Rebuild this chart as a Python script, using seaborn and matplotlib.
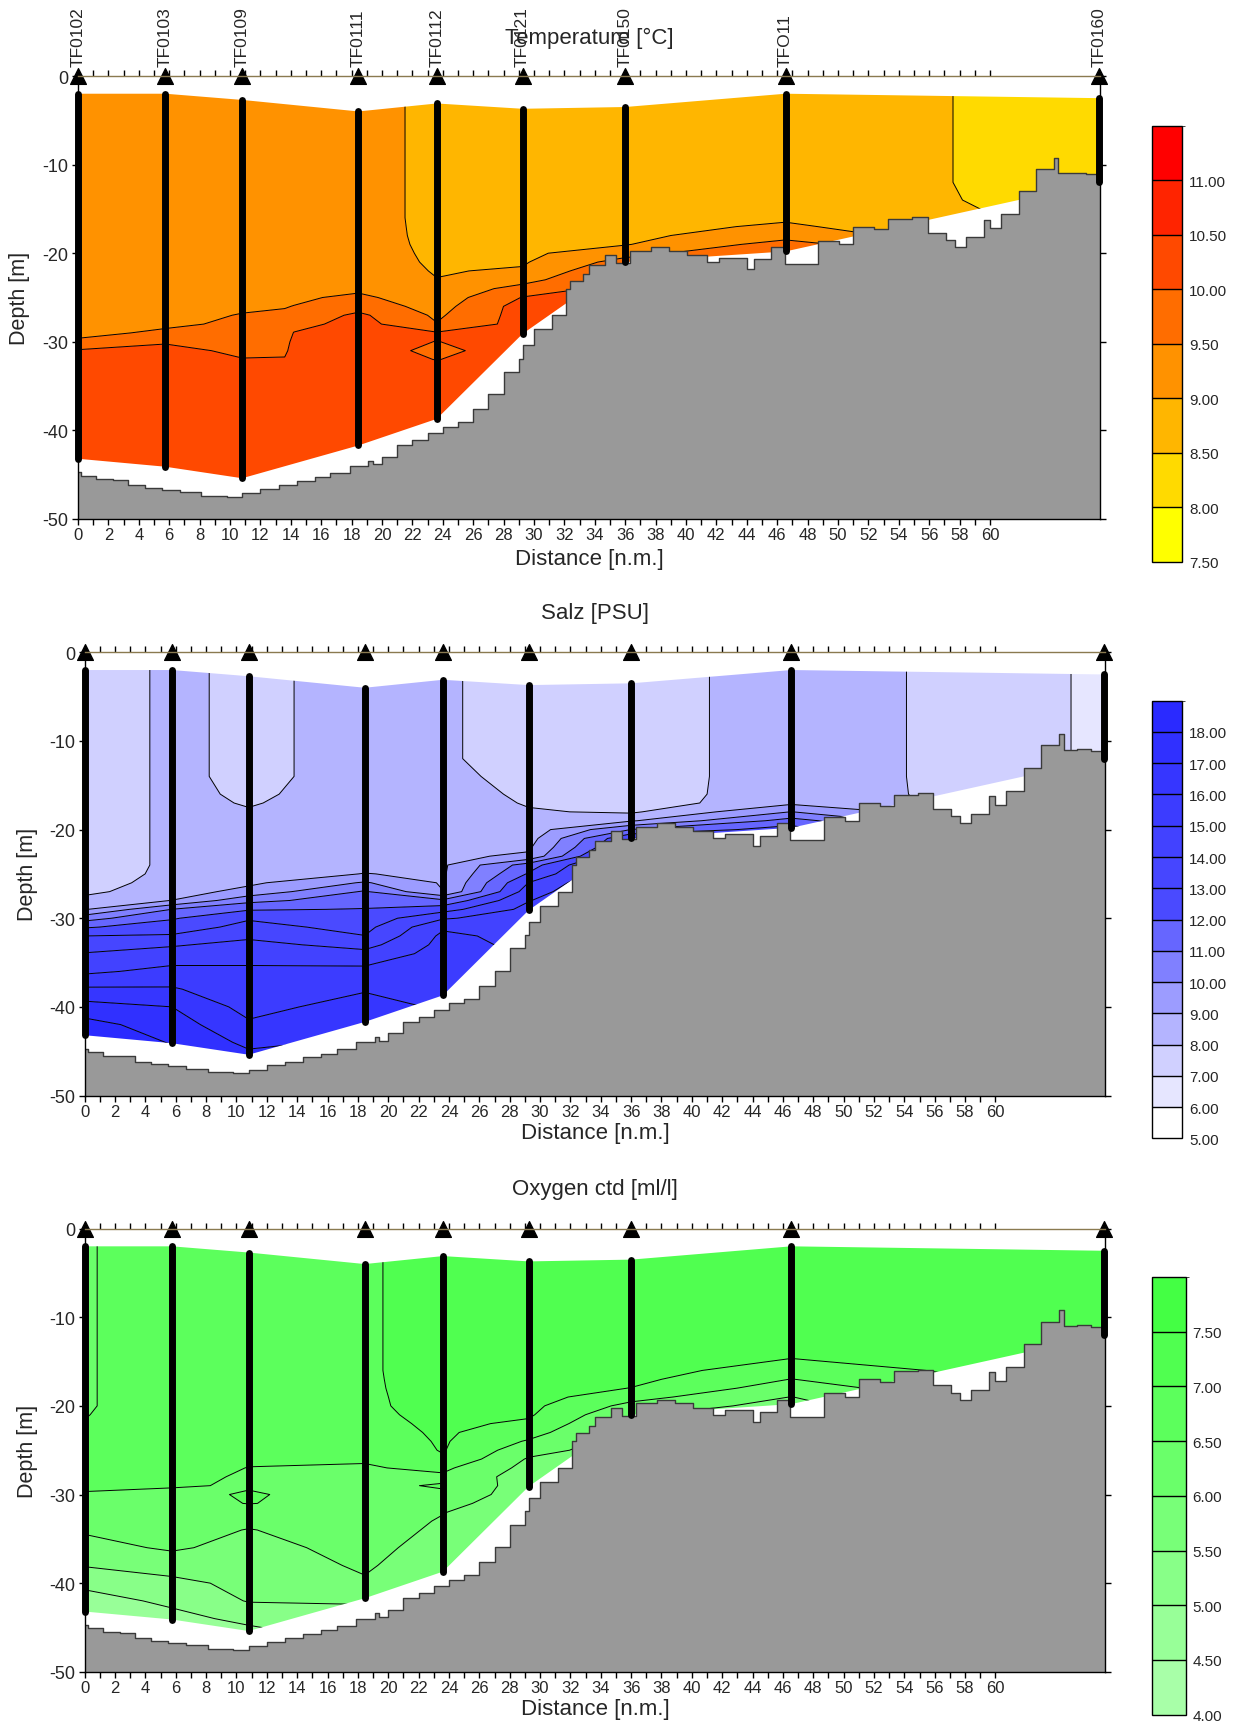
import numpy as np
import matplotlib
matplotlib.use("Agg")
import matplotlib.pyplot as plt
import seaborn as sns
from matplotlib.colors import ListedColormap, BoundaryNorm
from matplotlib.cm import ScalarMappable
from matplotlib.patches import Polygon
from matplotlib.ticker import FixedLocator

sns.set_style("ticks")
plt.rcParams["font.family"] = ["Liberation Sans", "DejaVu Sans"]
plt.rcParams["axes.unicode_minus"] = False

# ------------------------------------------------------------------ data
stations = ["TF0102", "TF0103", "TF0109", "TF0111", "TF0112", "TF0121", "TF0150", "TFO11", "TF0160"]
station_dist = [0.0, 5.75, 10.8, 18.45, 23.6, 29.25, 36.0, 46.55, 67.15]
cast_top = [2.0, 2.0, 2.7, 4.0, 3.1, 3.7, 3.5, 2.0, 2.5]
cast_bottom = [43.2, 44.1, 45.4, 41.7, 38.7, 29.1, 21.0, 19.8, 12.0]

depth_levels = [0, 4, 8, 12, 14, 16, 17, 18, 19, 20, 21, 22, 23, 24, 25, 26, 27, 28, 29, 30,
                31, 32, 33, 34, 36, 38, 40, 42, 44, 46, 48]

# temperature section columns (stations plus two read-off columns at 13.6 and 14.2 n.m.)
temp_grid_dist = [0.0, 5.75, 10.8, 13.6, 14.2, 18.45, 23.6, 29.25, 36.0, 46.55, 67.15]
temp_profiles = [
    # TF0102
    [9.3, 9.3, 9.3, 9.3, 9.3, 9.3, 9.3, 9.3, 9.3, 9.3, 9.3, 9.3, 9.3, 9.3, 9.3, 9.3, 9.3, 9.3,
     9.35, 9.6, 10.05, 10.2, 10.2, 10.2, 10.2, 10.2, 10.2, 10.2, 10.2, 10.2, 10.2],
    # TF0103
    [9.3, 9.3, 9.3, 9.3, 9.3, 9.3, 9.3, 9.3, 9.3, 9.3, 9.3, 9.3, 9.3, 9.3, 9.3, 9.3, 9.3,
     9.4, 9.6, 9.95, 10.15, 10.2, 10.2, 10.2, 10.2, 10.2, 10.2, 10.2, 10.2, 10.2, 10.2],
    # TF0109
    [9.3, 9.3, 9.3, 9.3, 9.3, 9.3, 9.3, 9.3, 9.3, 9.3, 9.3, 9.3, 9.3, 9.3, 9.3,
     9.4, 9.53, 9.6, 9.7, 9.8, 9.9, 10.02, 10.15, 10.2, 10.2, 10.2, 10.2, 10.2, 10.2, 10.2, 10.2],
    # 13.6 n.m.
    [9.3, 9.3, 9.3, 9.3, 9.3, 9.3, 9.3, 9.3, 9.3, 9.3, 9.3, 9.3, 9.3, 9.3,
     9.4, 9.48, 9.56, 9.64, 9.72, 9.8, 9.9, 10.04, 10.15, 10.2, 10.2, 10.2, 10.2, 10.2, 10.2,
     10.2, 10.2],
    # 14.2 n.m.
    [9.3, 9.3, 9.3, 9.3, 9.3, 9.3, 9.3, 9.3, 9.3, 9.3, 9.3, 9.3, 9.3, 9.3,
     9.42, 9.51, 9.65, 9.82, 10.02, 10.15, 10.2, 10.2, 10.2, 10.2, 10.2, 10.2, 10.2, 10.2, 10.2,
     10.2, 10.2],
    # TF0111
    [9.25, 9.25, 9.25, 9.25, 9.25, 9.25, 9.25, 9.25, 9.25, 9.25, 9.25, 9.25,
     9.3, 9.4, 9.6, 9.8, 10.1, 10.2, 10.2, 10.2, 10.2, 10.2, 10.2, 10.2, 10.2, 10.2, 10.2, 10.2,
     10.2, 10.2, 10.2],
    # TF0112
    [8.83, 8.83, 8.83, 8.83, 8.83, 8.83, 8.84, 8.85, 8.87, 8.9, 8.93, 8.97, 9.01, 9.1, 9.2, 9.3,
     9.42, 9.52, 10.05, 9.99, 9.9, 9.99, 10.2, 10.2, 10.2, 10.2, 10.2, 10.2, 10.2, 10.2, 10.2],
    # TF0121
    [8.8, 8.8, 8.8, 8.8, 8.8, 8.8, 8.81, 8.82, 8.85, 8.9, 8.95, 9.05, 9.3, 9.7, 10.02,
     10.2, 10.2, 10.2, 10.2, 10.2, 10.2, 10.2, 10.2, 10.2, 10.2, 10.2, 10.2, 10.2, 10.2, 10.2, 10.2],
    # TF0150
    [8.75, 8.75, 8.75, 8.75, 8.75, 8.78, 8.82, 8.88, 8.97, 9.3, 9.7, 10.02,
     10.2, 10.2, 10.2, 10.2, 10.2, 10.2, 10.2, 10.2, 10.2, 10.2, 10.2, 10.2, 10.2, 10.2, 10.2, 10.2,
     10.2, 10.2, 10.2],
    # TFO11
    [8.73, 8.73, 8.73, 8.73, 8.76, 8.92, 9.08, 9.3, 9.7, 10.02,
     10.2, 10.2, 10.2, 10.2, 10.2, 10.2, 10.2, 10.2, 10.2, 10.2, 10.2, 10.2, 10.2, 10.2, 10.2, 10.2,
     10.2, 10.2, 10.2, 10.2, 10.2],
    # TF0160
    [8.3, 8.3, 8.3, 8.3, 8.3, 8.3, 8.3, 8.3, 8.3, 8.3, 8.3, 8.3, 8.3, 8.3, 8.3, 8.3, 8.3, 8.3,
     8.3, 8.3, 8.3, 8.3, 8.3, 8.3, 8.3, 8.3, 8.3, 8.3, 8.3, 8.3, 8.3],
]

salt_profiles = [
    [7.5, 7.5, 7.5, 7.5, 7.5, 7.5, 7.5, 7.5, 7.5, 7.5, 7.5, 7.5, 7.5, 7.5,
     7.55, 7.65, 7.8, 8.27, 8.93, 10.6, 11.9, 13.0, 13.55, 14.05, 14.8, 16.15, 17.4, 18.35, 18.6,
     18.7, 18.7],
    [8.17, 8.17, 8.17, 8.17, 8.17, 8.17, 8.17, 8.17, 8.17, 8.17, 8.17, 8.17, 8.17, 8.17,
     8.2, 8.3, 8.5, 9.02, 11.02, 11.9, 12.5, 13.1, 13.9, 14.4, 15.3, 16.1, 17.0, 17.5, 17.95,
     18.3, 18.5],
    [7.82, 7.82, 7.82, 7.82, 7.82, 7.9, 7.96, 8.04, 8.1, 8.15, 8.2, 8.3, 8.4, 8.5, 8.65, 8.8,
     9.35, 10.7, 11.9, 12.9, 13.3, 13.8, 14.3, 14.8, 15.1, 15.35, 15.65, 16.15, 16.75, 17.4, 17.8],
    [8.28, 8.28, 8.28, 8.28, 8.28, 8.28, 8.28, 8.28, 8.3, 8.35, 8.4, 8.5, 8.6, 8.8, 9.02, 10.1,
     11.1, 11.55, 12.05, 12.35, 12.7, 13.02, 13.65, 14.3, 15.3, 15.9, 16.45, 16.9, 17.2, 17.4, 17.5],
    [8.18, 8.18, 8.18, 8.18, 8.4, 8.6, 8.65, 8.7, 8.72, 8.75, 8.77, 8.8, 8.82, 8.85, 8.88, 8.9,
     9.02, 11.2, 12.6, 13.9, 14.85, 15.2, 15.3, 15.4, 15.5, 15.65, 15.85, 16.05, 16.2, 16.3, 16.4],
    [7.4, 7.4, 7.4, 7.4, 7.5, 7.75, 7.9, 8.1, 8.3, 8.45, 8.6, 8.85, 9.15, 11.5, 12.1, 13.02,
     13.5, 13.95, 14.3, 14.5, 14.6, 14.7, 14.8, 14.9, 15.05, 15.2, 15.4, 15.6, 15.8, 16.0, 16.1],
    [7.33, 7.33, 7.33, 7.33, 7.33, 7.35, 7.4, 7.85, 8.9, 11.02, 13.02, 13.6, 14.8, 15.3, 15.5,
     15.6, 15.6, 15.6, 15.6, 15.6, 15.6, 15.6, 15.6, 15.6, 15.6, 15.6, 15.6, 15.6, 15.6, 15.6, 15.6],
    [8.7, 8.7, 8.7, 8.7, 8.7, 8.72, 8.8, 10.02, 11.4, 12.5, 13.5, 14.5, 15.0, 15.3,
     15.5, 15.5, 15.5, 15.5, 15.5, 15.5, 15.5, 15.5, 15.5, 15.5, 15.5, 15.5, 15.5, 15.5, 15.5,
     15.5, 15.5],
    [6.8, 6.8, 6.8, 6.8, 6.8, 6.8, 6.8, 6.8, 6.8, 6.8, 6.8, 6.8, 6.8, 6.8, 6.8, 6.8, 6.8, 6.8,
     6.8, 6.8, 6.8, 6.8, 6.8, 6.8, 6.8, 6.8, 6.8, 6.8, 6.8, 6.8, 6.8],
]

oxy_profiles = [
    [6.45, 6.45, 6.45, 6.45, 6.45, 6.45, 6.45, 6.45, 6.45, 6.45, 6.48, 6.52, 6.55, 6.55, 6.55,
     6.55, 6.55, 6.55, 6.54, 6.48, 6.35, 6.25, 6.15, 6.05, 5.85, 5.53, 5.12, 4.8, 4.7, 4.65, 4.6],
    [6.8, 6.8, 6.8, 6.8, 6.8, 6.8, 6.8, 6.8, 6.8, 6.8, 6.8, 6.8, 6.8, 6.8, 6.78, 6.75, 6.7, 6.62,
     6.52, 6.44, 6.38, 6.32, 6.26, 6.2, 6.06, 5.75, 5.35, 5.1, 4.85, 4.7, 4.6],
    [6.8, 6.8, 6.8, 6.8, 6.8, 6.8, 6.8, 6.8, 6.8, 6.8, 6.8, 6.8, 6.78, 6.72, 6.65, 6.57, 6.49,
     6.45, 6.48, 6.52, 6.51, 6.35, 6.12, 5.98, 5.85, 5.75, 5.65, 5.53, 5.12, 4.8, 4.7],
    [6.9, 6.9, 6.9, 6.9, 6.9, 6.9, 6.9, 6.9, 6.9, 6.9, 6.88, 6.85, 6.8, 6.72, 6.63, 6.54, 6.46,
     6.44, 6.43, 6.41, 6.38, 6.35, 6.3, 6.25, 6.15, 6.06, 5.95, 5.55, 5.3, 5.15, 5.0],
    [7.33, 7.33, 7.33, 7.33, 7.33, 7.33, 7.3, 7.27, 7.23, 7.2, 7.15, 7.1, 7.07, 7.05, 7.03, 6.95,
     6.6, 6.42, 6.53, 6.45, 6.2, 6.02, 5.95, 5.9, 5.8, 5.7, 5.55, 5.4, 5.2, 5.05, 4.95],
    [7.33, 7.33, 7.33, 7.33, 7.33, 7.33, 7.3, 7.25, 7.2, 7.12, 7.06, 6.92, 6.7, 6.45, 6.2, 5.95,
     5.85, 5.75, 5.7, 5.65, 5.62, 5.6, 5.58, 5.56, 5.52, 5.51, 5.45, 5.4, 5.35, 5.3, 5.25],
    [7.33, 7.33, 7.33, 7.33, 7.28, 7.2, 7.12, 6.99, 6.68, 6.35, 6.05, 5.85, 5.75,
     5.7, 5.7, 5.7, 5.7, 5.7, 5.7, 5.7, 5.7, 5.7, 5.7, 5.7, 5.7, 5.7, 5.7, 5.7, 5.7, 5.7, 5.7],
    [7.33, 7.33, 7.33, 7.33, 7.12, 6.75, 6.49, 6.25, 5.99, 5.8,
     5.7, 5.7, 5.7, 5.7, 5.7, 5.7, 5.7, 5.7, 5.7, 5.7, 5.7, 5.7, 5.7, 5.7, 5.7, 5.7, 5.7, 5.7, 5.7,
     5.7, 5.7],
    [7.33, 7.33, 7.33, 7.33, 7.33, 7.33, 7.33, 7.33, 7.33, 7.33, 7.33, 7.33, 7.33, 7.33, 7.33,
     7.33, 7.33, 7.33, 7.33, 7.33, 7.33, 7.33, 7.33, 7.33, 7.33, 7.33, 7.33, 7.33, 7.33, 7.33, 7.33],
]

# bathymetry (step start distance, depth)
bathy_dist = [0.0, 0.2, 1.2, 2.3, 3.3, 4.4, 5.5, 6.7, 8.1, 9.8, 10.8, 12.0, 13.2, 14.4, 15.6,
              16.6, 17.9, 19.1, 19.4, 20.0, 21.0, 22.0, 23.0, 24.0, 25.0, 26.0, 27.0, 28.0,
              29.0, 29.3, 30.0, 31.2, 32.1, 32.4, 33.2, 33.6, 34.7, 35.4, 36.3, 37.7, 38.9,
              40.1, 41.4, 42.2, 44.0, 44.5, 45.6, 46.5, 48.7, 50.1, 51.0, 52.4, 53.3, 54.9,
              55.9, 57.1, 57.7, 58.4, 59.6, 60.0, 60.7, 61.9, 63.0, 64.2, 64.5, 65.4, 66.3]
bathy_depth = [44.7, 45.1, 45.5, 45.6, 46.2, 46.5, 46.7, 47.0, 47.4, 47.5, 47.1, 46.6, 46.2,
               45.7, 45.3, 44.8, 44.0, 43.4, 43.8, 43.0, 41.7, 41.1, 40.3, 39.6, 39.1, 37.6,
               35.9, 33.4, 31.9, 30.4, 28.6, 27.0, 24.0, 23.1, 22.3, 21.3, 20.2, 21.1, 19.7,
               19.3, 19.7, 20.2, 21.0, 20.5, 21.8, 20.7, 19.3, 21.2, 18.6, 19.0, 17.0, 17.3,
               16.1, 15.9, 17.7, 18.5, 19.3, 18.2, 16.2, 17.2, 15.6, 13.0, 10.5, 9.2, 11.0,
               10.9, 11.1]

temp_bounds = [7.5, 8.0, 8.5, 9.0, 9.5, 10.0, 10.5, 11.0, 11.5]
temp_colors = ["#FFFF00", "#FFDA00", "#FFB600", "#FF9200", "#FF6D00", "#FF4900", "#FF2400", "#FF0000"]
salt_bounds = [5, 6, 7, 8, 9, 10, 11, 12, 13, 14, 15, 16, 17, 18, 19]
salt_colors = ["#FFFFFF", "#E6E6FF", "#D0D0FF", "#B4B4FF", "#9C9CFF", "#8080FF", "#6666FF",
               "#4A4AFF", "#4646FF", "#4242FF", "#3C3CFF", "#3636FF", "#3030FF", "#2A2AFF"]
oxy_bounds = [4.0, 4.5, 5.0, 5.5, 6.0, 6.5, 7.0, 7.5, 8.0]
oxy_colors = ["#A8FFA8", "#98FF98", "#88FF88", "#78FF78", "#6AFF6A", "#5CFF5C", "#50FF50", "#44FF44"]

titles = ["Temperature [°C]", "Salz [PSU]", "Oxygen ctd [ml/l]"]
x_tick_values = list(range(0, 61, 2))
x_minor_values = list(range(0, 61, 1))
y_tick_values = [-50, -40, -30, -20, -10, 0]

XMAX = 67.24
W, H = 1234, 1724

fig = plt.figure(figsize=(W / 100, H / 100), dpi=100)


def fx(px):
    return px / W


def fy(py):
    return 1 - py / H


panels = [
    dict(ax=(78, 1100, 77, 520), cb=(1151.5, 1182.3, 126.5, 563), title_y=38.5,
         xlabel_y=559, ylabel_x=19.8),
    dict(ax=(84.7, 1105.3, 653.3, 1096.5), cb=(1151.5, 1182.3, 701.7, 1139.4), title_y=613.7,
         xlabel_y=1134, ylabel_x=27.5),
    dict(ax=(84.7, 1105.3, 1229.6, 1672.8), cb=(1151.5, 1185.6, 1278, 1715.7), title_y=1190,
         xlabel_y=1710, ylabel_x=27.5),
]
datasets = [(temp_grid_dist, temp_profiles, temp_bounds, temp_colors),
            (station_dist, salt_profiles, salt_bounds, salt_colors),
            (station_dist, oxy_profiles, oxy_bounds, oxy_colors)]

for k, (pan, (gdist, profiles, bounds, colors)) in enumerate(zip(panels, datasets)):
    l, r, t, b = pan["ax"]
    ax = fig.add_axes([fx(l), fy(b), fx(r - l), (b - t) / H])
    X, Y = np.meshgrid(np.array(gdist), -np.array(depth_levels, dtype=float))
    V = np.array(profiles, dtype=float).T

    verts = [(x, -d) for x, d in zip(station_dist, cast_top)] + \
            [(x, -d) for x, d in zip(station_dist[::-1], cast_bottom[::-1])]
    clip = Polygon(verts, closed=True, transform=ax.transData, facecolor="none", edgecolor="none")

    cf = ax.contourf(X, Y, V, levels=bounds, colors=colors, zorder=1, antialiased=True)
    cf.set_clip_path(clip)
    cl = ax.contour(X, Y, V, levels=bounds[1:-1], colors="k", linewidths=0.7, zorder=2)
    cl.set_clip_path(clip)

    # bathymetry
    bx = np.array(bathy_dist + [XMAX])
    bd = -np.array(bathy_depth + [bathy_depth[-1]])
    ax.fill_between(bx, bd, -50, step="post", color="#999999", lw=0, zorder=3)
    sns.lineplot(x=bx, y=bd, ax=ax, drawstyle="steps-post", color="#3a3a3a", lw=1.0,
                 zorder=4, estimator=None, sort=False)

    # casts and station markers
    for x, t0, b0 in zip(station_dist, cast_top, cast_bottom):
        ax.plot([x, x], [-t0, -b0], color="k", lw=5, solid_capstyle="round", zorder=5,
                clip_on=False)
    sns.scatterplot(x=station_dist, y=[0.0] * len(station_dist), ax=ax, marker="^", s=130,
                    color="k", edgecolor="k", zorder=6, clip_on=False, legend=False)

    if k == 0:
        for name, x in zip(stations, station_dist):
            ax.annotate(name, (x, 0), xytext=(0, 7), textcoords="offset points",
                        rotation=90, ha="center", va="bottom", fontsize=12.5, zorder=7,
                        annotation_clip=False)

    ax.set_xlim(0, XMAX)
    ax.set_ylim(-50, 0)
    ax.set_xticks(x_tick_values, [str(v) for v in x_tick_values])
    ax.xaxis.set_minor_locator(FixedLocator(x_minor_values))
    ax.set_yticks(y_tick_values, [str(v) for v in y_tick_values])
    ax.tick_params(axis="x", which="both", bottom=True, top=True, direction="out",
                   length=4, width=1, color="k", labelsize=12, pad=2)
    ax.tick_params(axis="y", which="major", left=True, right=True, direction="out",
                   length=4, width=1, color="k", labelsize=13, pad=3)
    ax.set_xlabel("")
    ax.set_ylabel("")
    for name, sp in ax.spines.items():
        sp.set_visible(True)
        sp.set_linewidth(1.0)
        sp.set_color("k")
        sp.set_zorder(8)
    ax.spines["top"].set_color("#8a7a50")
    ax.set_facecolor("white")

    # colorbar
    cl_, cr_, ct_, cb_ = pan["cb"]
    cax = fig.add_axes([fx(cl_), fy(cb_), fx(cr_ - cl_), (cb_ - ct_) / H])
    cmap = ListedColormap(colors)
    norm = BoundaryNorm(bounds, cmap.N)
    sm = ScalarMappable(norm=norm, cmap=cmap)
    cbar = fig.colorbar(sm, cax=cax, ticks=bounds[:-1], drawedges=True)
    cbar.ax.set_yticklabels([f"{v:.2f}" for v in bounds[:-1]])
    cbar.ax.tick_params(length=0, pad=5, labelsize=11)
    cbar.outline.set_edgecolor("k")
    cbar.outline.set_linewidth(1.0)
    cbar.dividers.set_color("k")
    cbar.dividers.set_linewidth(1.0)

    cx = (l + r) / 2
    fig.text(fx(cx), fy(pan["title_y"]), titles[k], ha="center", va="center", fontsize=16,
             zorder=10)
    fig.text(fx(cx), fy(pan["xlabel_y"]), "Distance [n.m.]", ha="center", va="center",
             fontsize=16)
    fig.text(fx(pan["ylabel_x"]), fy((t + b) / 2), "Depth [m]", ha="center", va="center",
             rotation=90, fontsize=15.5)

fig.savefig("out.png", dpi=100)
